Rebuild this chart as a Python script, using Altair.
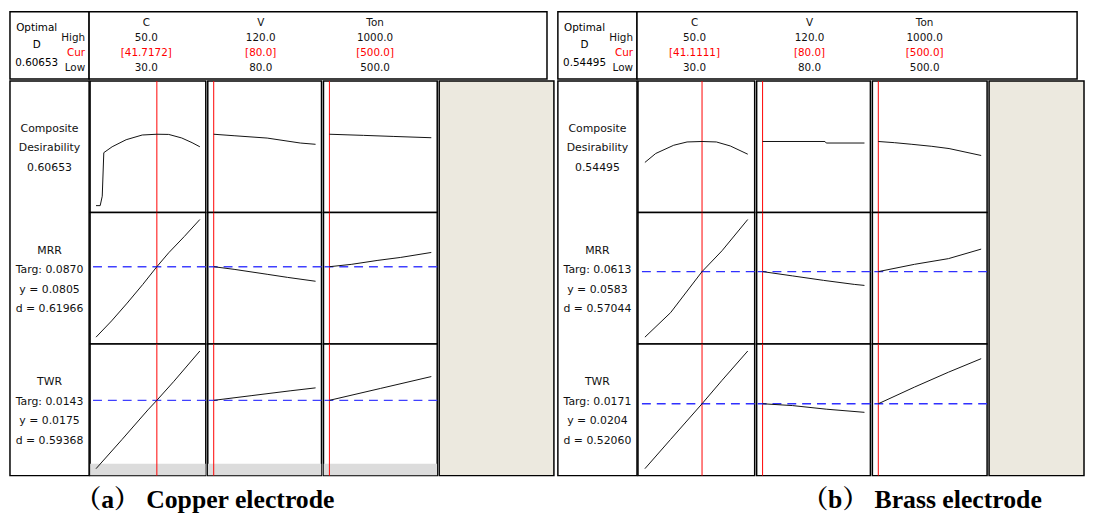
import altair as alt
import pandas as pd

FONT = "DejaVu Sans"
CAP_FONT = "'Liberation Serif', 'Noto Serif CJK SC', 'Noto Sans CJK SC', serif"
BEIGE = "#ece9df"
SW = 1.5  # border width of every box

# ---------------- factors ----------------
factor_names = ["C", "V", "Ton"]
factor_low = [30.0, 80.0, 500.0]
factor_high = [50.0, 120.0, 1000.0]
high_text = ["50.0", "120.0", "1000.0"]
low_text = ["30.0", "80.0", "500.0"]

# ---------------- (a) copper electrode ----------------
cu_caption = "（a）  Copper electrode"
cu_optimal_D = "0.60653"
cu_cur = [41.7172, 80.0, 500.0]
cu_cur_text = ["[41.7172]", "[80.0]", "[500.0]"]
cu_labels_D = ["Composite", "Desirability", "0.60653"]
cu_labels_MRR = ["MRR", "Targ: 0.0870", "y = 0.0805", "d = 0.61966"]
cu_labels_TWR = ["TWR", "Targ: 0.0143", "y = 0.0175", "d = 0.59368"]
cu_y_MRR = 0.0805
cu_y_TWR = 0.0175
cu_dom_D = [0.0, 1.0]
cu_dom_MRR = [0.035, 0.111]
cu_dom_TWR = [0.006, 0.0258]
cu_twr_band = [0.00484, 0.00683]

cu_D_C_x = [30, 30.8, 31.2, 31.5, 33.1, 35.8, 38.9, 41.7172, 44.0, 46.5, 48.5, 50]
cu_D_C_y = [0.0, 0.0, 0.08, 0.45, 0.50, 0.56, 0.60, 0.6065, 0.605, 0.575, 0.535, 0.50]
cu_D_V_x = [80, 88, 101, 114, 120]
cu_D_V_y = [0.6065, 0.594, 0.574, 0.532, 0.521]
cu_D_T_x = [500, 667, 813, 1000]
cu_D_T_y = [0.6065, 0.597, 0.588, 0.577]

cu_MRR_C_x = [30, 33, 36, 39, 41.7172, 44, 47, 50]
cu_MRR_C_y = [0.035, 0.0455, 0.057, 0.069, 0.0805, 0.0895, 0.100, 0.111]
cu_MRR_V_x = [80, 88, 101, 109, 120]
cu_MRR_V_y = [0.0805, 0.0788, 0.0756, 0.0736, 0.0711]
cu_MRR_T_x = [500, 607, 738, 850, 1000]
cu_MRR_T_y = [0.0805, 0.0820, 0.0846, 0.0865, 0.0897]

cu_TWR_C_x = [30, 35, 40, 41.7172, 45, 50]
cu_TWR_C_y = [0.006, 0.0109, 0.0159, 0.0175, 0.0207, 0.0258]
cu_TWR_V_x = [80, 95, 110, 120]
cu_TWR_V_y = [0.0175, 0.0183, 0.0191, 0.0196]
cu_TWR_T_x = [500, 750, 1000]
cu_TWR_T_y = [0.0175, 0.0195, 0.0215]

# ---------------- (b) brass electrode ----------------
br_caption = "（b）  Brass electrode"
br_optimal_D = "0.54495"
br_cur = [41.1111, 80.0, 500.0]
br_cur_text = ["[41.1111]", "[80.0]", "[500.0]"]
br_labels_D = ["Composite", "Desirability", "0.54495"]
br_labels_MRR = ["MRR", "Targ: 0.0613", "y = 0.0583", "d = 0.57044"]
br_labels_TWR = ["TWR", "Targ: 0.0171", "y = 0.0204", "d = 0.52060"]
br_y_MRR = 0.0583
br_y_TWR = 0.0204
br_dom_D = [0.0, 1.0]
br_dom_MRR = [0.026, 0.084]
br_dom_TWR = [0.006, 0.0321]

br_D_C_x = [30, 32.1, 35.6, 38.2, 41.1111, 43.9, 46.6, 50]
br_D_C_y = [0.367, 0.443, 0.513, 0.541, 0.545, 0.541, 0.507, 0.437]
br_D_V_x = [80, 104.5, 105, 120]
br_D_V_y = [0.545, 0.545, 0.532, 0.532]
br_D_T_x = [500, 578, 663, 760, 844, 1000]
br_D_T_y = [0.545, 0.535, 0.521, 0.504, 0.485, 0.426]

br_MRR_C_x = [30, 35.0, 41.1111, 45, 50]
br_MRR_C_y = [0.026, 0.0381, 0.0583, 0.0686, 0.084]
br_MRR_V_x = [80, 91.7, 103.9, 116.0, 120]
br_MRR_V_y = [0.0583, 0.0562, 0.0540, 0.0520, 0.0515]
br_MRR_T_x = [500, 676, 841, 1000]
br_MRR_T_y = [0.0583, 0.0619, 0.0647, 0.0694]

br_TWR_C_x = [30, 35, 41.1111, 45, 50]
br_TWR_C_y = [0.006, 0.0125, 0.0204, 0.0256, 0.0321]
br_TWR_V_x = [80, 91.7, 105, 120]
br_TWR_V_y = [0.0204, 0.0200, 0.0192, 0.0185]
br_TWR_T_x = [500, 676, 841, 1000]
br_TWR_T_y = [0.0204, 0.0241, 0.0274, 0.0304]

ROW_H = 133
HEAD_H = 68
LABEL_W = 80


def box(fill="white"):
    return alt.ViewBackground(stroke="black", strokeWidth=SW, fill=fill)


def cell(xs, ys, j, ydom, cur, yline, w, blue, xpad, band=None):
    xsc = alt.Scale(domain=[factor_low[j], factor_high[j]], padding=xpad, nice=False, zero=False)
    ysc = alt.Scale(domain=ydom, padding=7, nice=False, zero=False)
    layers = []
    if band is not None:
        layers.append(
            alt.Chart(pd.DataFrame({"lo": [band[0]], "hi": [band[1]]}))
            .mark_rect(color="#dcdcdc", clip=True)
            .encode(y=alt.Y("lo:Q", scale=ysc, axis=None), y2="hi:Q")
        )
    layers.append(
        alt.Chart(pd.DataFrame({"x": [cur]}))
        .mark_rule(color="#ff0000", strokeWidth=1)
        .encode(x=alt.X("x:Q", scale=xsc, axis=None))
    )
    if yline is not None:
        layers.append(
            alt.Chart(pd.DataFrame({"y": [yline]}))
            .mark_rule(color=blue, strokeWidth=1.4, strokeDash=[9, 6])
            .encode(y=alt.Y("y:Q", scale=ysc, axis=None))
        )
    layers.append(
        alt.Chart(pd.DataFrame({"x": xs, "y": ys}))
        .mark_line(color="#111111", strokeWidth=1)
        .encode(x=alt.X("x:Q", scale=xsc, axis=None), y=alt.Y("y:Q", scale=ysc, axis=None))
    )
    return alt.layer(*layers).properties(width=w, height=ROW_H, view=box())


def label_col(rows_text, blue):
    recs = []
    for r, lines in enumerate(rows_text):
        n = len(lines)
        for k, t in enumerate(lines):
            recs.append({
                "t": t,
                "pos": r * ROW_H + ROW_H / 2 + 1.7 + (k - (n - 1) / 2) * 19.6,
                "c": "blue" if t.startswith("y =") else "black",
            })
    df = pd.DataFrame(recs)
    return alt.Chart(df).mark_text(font=FONT, fontSize=11).encode(
        y=alt.Y("pos:Q", scale=alt.Scale(domain=[0, 3 * ROW_H], reverse=True, nice=False, zero=False), axis=None),
        text="t:N",
        color=alt.Color("c:N", scale=alt.Scale(domain=["black", "blue"], range=["#111111", blue]), legend=None),
    ).properties(width=LABEL_W, height=3 * ROW_H, view=box())


LINES = ["name", "High", "Cur", "Low"]


def header_label(dtext):
    left = alt.Chart(pd.DataFrame({"t": ["Optimal", "D", dtext], "k": ["a", "b", "c"]})).mark_text(
        font=FONT, fontSize=10.5
    ).encode(
        x=alt.value(27),
        y=alt.Y("k:N", scale=alt.Scale(type="point", domain=["a", "b", "c"], padding=0.91), axis=None),
        text="t:N",
    )
    right = alt.Chart(pd.DataFrame({"t": ["High", "Cur", "Low"], "line": ["High", "Cur", "Low"]})).mark_text(
        font=FONT, fontSize=10.5, align="right"
    ).encode(
        x=alt.value(76),
        y=alt.Y("line:N", scale=alt.Scale(type="point", domain=LINES, padding=0.75), axis=None),
        text="t:N",
        color=alt.Color("line:N", scale=alt.Scale(domain=LINES, range=["#111111", "#111111", "#ff0000", "#111111"]), legend=None),
    )
    return alt.layer(left, right).resolve_scale(y="independent", color="independent").properties(
        width=LABEL_W, height=HEAD_H, view=box()
    )


def header_factors(cur_text, col_w, total_w):
    recs = []
    for i, f in enumerate(factor_names):
        recs.append({"f": f, "line": "name", "t": f})
        recs.append({"f": f, "line": "High", "t": high_text[i]})
        recs.append({"f": f, "line": "Cur", "t": cur_text[i]})
        recs.append({"f": f, "line": "Low", "t": low_text[i]})
    df = pd.DataFrame(recs)
    return alt.Chart(df).mark_text(font=FONT, fontSize=10.5).encode(
        x=alt.X("f:N", scale=alt.Scale(type="band", domain=factor_names, range=[0, sum(col_w)],
                                       paddingInner=0, paddingOuter=0), axis=None),
        y=alt.Y("line:N", scale=alt.Scale(type="point", domain=LINES, padding=0.75), axis=None),
        text="t:N",
        color=alt.Color("line:N", scale=alt.Scale(domain=LINES, range=["#111111", "#111111", "#ff0000", "#111111"]), legend=None),
    ).properties(width=total_w, height=HEAD_H, view=box())


def beige(w):
    return alt.Chart(pd.DataFrame({"v": [0]})).mark_text().encode(
        text=alt.value("")
    ).properties(width=w, height=3 * ROW_H, view=box(BEIGE))


def panel(caption, dx, dtext, cur, cur_text, labels, yvals, doms, curves, col_w, beige_w, blue, xpads, band=None):
    head = alt.hconcat(
        header_label(dtext),
        header_factors(cur_text, col_w, sum(col_w) + beige_w),
        spacing=0, bounds="flush",
    )
    cols = []
    for j in range(3):
        cells = []
        for r in range(3):
            xs, ys = curves[r][j]
            cells.append(cell(xs, ys, j, doms[r], cur[j], yvals[r], col_w[j], blue, xpads[j],
                              band if r == 2 else None))
        cols.append(alt.vconcat(*cells, spacing=0, bounds="flush"))
    # full bounds include the border overhang on both sides -> cancel it with -2*SW
    body = alt.hconcat(label_col(labels, blue), *cols, beige(beige_w), spacing=-2 * SW)
    return alt.vconcat(
        head, body, spacing=-2 * SW + 2,
        title=alt.TitleParams(caption, orient="bottom", anchor="start", dx=dx, offset=10,
                              font=CAP_FONT, fontSize=26, fontWeight="bold", color="#000000"),
    )


cu_curves = [
    [(cu_D_C_x, cu_D_C_y), (cu_D_V_x, cu_D_V_y), (cu_D_T_x, cu_D_T_y)],
    [(cu_MRR_C_x, cu_MRR_C_y), (cu_MRR_V_x, cu_MRR_V_y), (cu_MRR_T_x, cu_MRR_T_y)],
    [(cu_TWR_C_x, cu_TWR_C_y), (cu_TWR_V_x, cu_TWR_V_y), (cu_TWR_T_x, cu_TWR_T_y)],
]
br_curves = [
    [(br_D_C_x, br_D_C_y), (br_D_V_x, br_D_V_y), (br_D_T_x, br_D_T_y)],
    [(br_MRR_C_x, br_MRR_C_y), (br_MRR_V_x, br_MRR_V_y), (br_MRR_T_x, br_MRR_T_y)],
    [(br_TWR_C_x, br_TWR_C_y), (br_TWR_V_x, br_TWR_V_y), (br_TWR_T_x, br_TWR_T_y)],
]

panel_a = panel(cu_caption, 67, cu_optimal_D, cu_cur, cu_cur_text,
                [cu_labels_D, cu_labels_MRR, cu_labels_TWR],
                [None, cu_y_MRR, cu_y_TWR], [cu_dom_D, cu_dom_MRR, cu_dom_TWR],
                cu_curves, [117, 115, 115], 116, "#4040ff", [6, 6, 6], band=cu_twr_band)
panel_b = panel(br_caption, 248, br_optimal_D, br_cur, br_cur_text,
                [br_labels_D, br_labels_MRR, br_labels_TWR],
                [None, br_y_MRR, br_y_TWR], [br_dom_D, br_dom_MRR, br_dom_TWR],
                br_curves, [118, 115, 116], 96, "#3030ff", [7, 6, 6])

chart = alt.hconcat(panel_a, panel_b, spacing=2).properties(
    padding={"left": 1, "top": 0, "right": 0, "bottom": 0}
).configure(background="white").configure_view(stroke=None)

chart.save("out.html", embed_options={"renderer": "svg", "actions": False})
